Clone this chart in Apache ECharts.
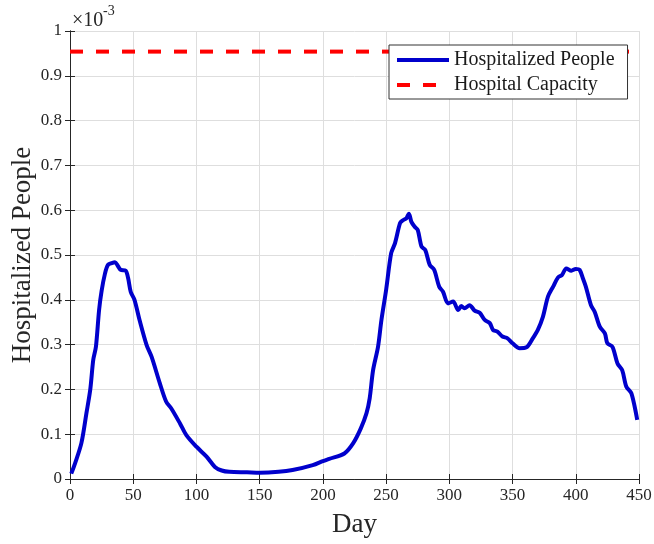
<!DOCTYPE html>
<html>
<head>
<meta charset="utf-8">
<script src="https://cdn.jsdelivr.net/npm/echarts@6/dist/echarts.min.js"></script>
<style>html,body{margin:0;padding:0;background:#fff;}#c{width:654px;height:544px;}</style>
</head>
<body>
<div id="c"></div>
<script>
// Values in units of 1e-3
const days = [1,4,9,13,16,18.4,20.5,23,25,27.7,30,33,35.6,38,40,44,46,48,51,55,60.6,64.5,71,76,80,87,92,100,108,114.6,120,126,140,150,165,176,192,200,205,217,224,230,234.5,237,239.7,243.6,246.3,250,254,257,261,263,266,268,270,272.6,275,278,281,284.5,288,292,295,299,303,307,309.5,312,316,320,324,328,332,334.5,338,342,346,350,355.6,361,366,370,374,378,382,386,389,392.5,396.5,400,403,405.6,408,412,415,419,423,425,429,433,436.7,440,444,448.6];
const hospitalized = [0.012,0.035,0.08,0.147,0.199,0.266,0.295,0.377,0.42,0.459,0.478,0.482,0.484,0.475,0.467,0.465,0.448,0.418,0.40,0.355,0.299,0.273,0.214,0.173,0.158,0.124,0.098,0.072,0.05,0.027,0.019,0.016,0.015,0.014,0.016,0.02,0.031,0.04,0.045,0.057,0.08,0.113,0.147,0.18,0.243,0.295,0.355,0.422,0.504,0.526,0.571,0.577,0.582,0.592,0.574,0.563,0.556,0.519,0.511,0.478,0.467,0.429,0.418,0.392,0.396,0.377,0.386,0.381,0.388,0.376,0.371,0.355,0.348,0.333,0.329,0.318,0.314,0.303,0.292,0.294,0.314,0.333,0.362,0.407,0.429,0.45,0.455,0.47,0.465,0.469,0.467,0.448,0.429,0.388,0.373,0.34,0.325,0.303,0.295,0.258,0.243,0.206,0.191,0.132];
const capacityDays = [0, 450];
const capacityValue = [0.954, 0.954];
const seriesNames = ['Hospitalized People', 'Hospital Capacity'];
const xTitle = 'Day';
const yTitle = 'Hospitalized People';

const FONT = '"Liberation Serif", "Times New Roman", serif';
const AX = '#262626';
const chart = echarts.init(document.getElementById('c'));

const axisCommon = {
  axisLine: {show: true, lineStyle: {color: AX, width: 1}},
  axisTick: {show: true, inside: true, length: 5, lineStyle: {color: AX}},
  axisLabel: {color: AX, fontFamily: FONT, fontSize: 17},
};

chart.setOption({
  animation: false,
  backgroundColor: '#fff',
  grid: {left: 70, right: 15, top: 31, bottom: 65, outerBoundsMode: 'none', containLabel: false},
  graphic: [
    {type: 'text', left: 72, top: 11,
     style: {text: '×10', fontFamily: FONT, fontSize: 20, fill: AX}},
    {type: 'text', left: 103, top: 4,
     style: {text: '-3', fontFamily: FONT, fontSize: 14, fill: AX}}
  ],
  legend: {
    orient: 'vertical', left: 389, top: 45,
    padding: [5, 13, 4, 6], itemGap: 5,
    itemWidth: 52, itemHeight: 20,
    backgroundColor: '#fff', borderColor: '#333', borderWidth: 1,
    itemStyle: {opacity: 0},
    lineStyle: {width: 4},
    textStyle: {fontFamily: FONT, fontSize: 20, color: '#1a1a1a'},
    data: seriesNames
  },
  xAxis: [
    Object.assign({type: 'value', min: 0, max: 450, interval: 50,
      name: xTitle, nameLocation: 'middle', nameGap: 32, nameMoveOverlap: false,
      nameTextStyle: {fontFamily: FONT, fontSize: 27, color: AX},
      splitLine: {show: true, lineStyle: {color: '#dedede'}}}, axisCommon),
    Object.assign({}, axisCommon, {type: 'value', position: 'top', min: 0, max: 450, interval: 50,
      axisLabel: {show: false}, splitLine: {show: false}})
  ],
  yAxis: [
    Object.assign({type: 'value', min: 0, max: 1, interval: 0.1,
      name: yTitle, nameLocation: 'middle', nameGap: 34, nameMoveOverlap: false,
      nameTextStyle: {fontFamily: FONT, fontSize: 27, color: AX},
      splitLine: {show: true, lineStyle: {color: '#dedede'}}}, axisCommon),
    Object.assign({}, axisCommon, {type: 'value', position: 'right', min: 0, max: 1, interval: 0.1,
      axisLabel: {show: false}, splitLine: {show: false}})
  ],
  series: [
    {
      name: seriesNames[0], type: 'line', symbol: 'none', smooth: 0.3,
      lineStyle: {color: '#0000CC', width: 4},
      itemStyle: {color: '#0000CC'},
      data: days.map((d, i) => [d, hospitalized[i]])
    },
    {
      name: seriesNames[1], type: 'line', symbol: 'none',
      lineStyle: {color: '#FF0000', width: 4, type: [13, 13]},
      itemStyle: {color: '#FF0000'},
      data: capacityDays.map((d, i) => [d, capacityValue[i]])
    }
  ]
});
</script>
</body>
</html>
